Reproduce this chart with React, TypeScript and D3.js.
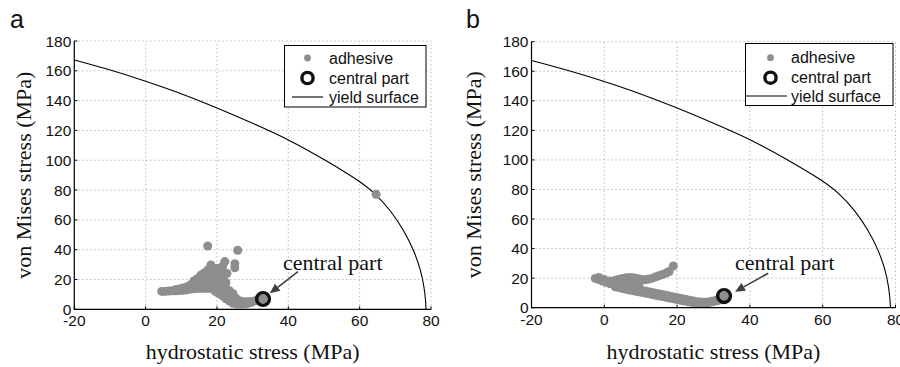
import React from "react";
import * as d3 from "d3";

// ---------- data ----------
const xTicks = [-20, 0, 20, 40, 60, 80];
const yTicks = [0, 20, 40, 60, 80, 100, 120, 140, 160, 180];

// yield surface (hydrostatic, von Mises)
const yieldX = [-20, -10.6, 0, 8, 20, 30, 40, 50, 60, 64.6, 68.8, 72.5, 75.3, 77.2, 78.1, 78.5, 78.6];
const yieldY = [167.3, 161.1, 153.2, 146.5, 135.3, 124.8, 114.1, 100.7, 86.1, 77.2, 66, 52.6, 39.1, 25.7, 14.5, 6, 0];

// adhesive points, panel a
const adhesiveA: [number, number][] = [
  [4.5, 12], [5.5, 12], [6.5, 12.2], [7.5, 12.4], [8.5, 12.4], [8.5, 13.2], [9.5, 12.6], [9.5, 13.6],
  [10.5, 12.8], [10.5, 14.3], [11.5, 13], [11.5, 15],
  [12.5, 13.5], [12.5, 16.3], [13.5, 13.8], [13.5, 16.5], [13.5, 19],
  [14.5, 14], [14.5, 17], [14.5, 20.5],
  [15.5, 14], [15.5, 17.5], [15.5, 21], [15.5, 23],
  [16.5, 14], [16.5, 17.5], [16.5, 21], [16.5, 24.5],
  [17.5, 14], [17.5, 17.5], [17.5, 21], [17.5, 24.5], [17.5, 26.5],
  [18.5, 14], [18.5, 17.5], [18.5, 21], [18.5, 24.5], [18.3, 28], [18.3, 29.8],
  [19.5, 12], [19.5, 15.5], [19.5, 19], [19.5, 22.5], [19.5, 26],
  [20.5, 10.5], [20.5, 14], [20.5, 17.5], [20.5, 21], [20.5, 25], [20.2, 27.5],
  [21.5, 9], [21.5, 12.5], [21.5, 16], [21.5, 20], [21.6, 26], [21.6, 29],
  [22.5, 7], [22.5, 10.5], [22.5, 14], [22.5, 18], [22.8, 24],
  [23.5, 5.5], [23.5, 9], [23.5, 12.5],
  [24.5, 4], [24.5, 7.5], [24.5, 10.5],
  [25.5, 3.5], [25.5, 7], [26.5, 3.5], [26.5, 5.5], [27.5, 3.6], [27.5, 5],
  [28.5, 3.8], [28.5, 5], [29.5, 4.5], [29.5, 5.2], [30.5, 5.5], [31.5, 6.3], [32.5, 7], [32.9, 6.9],
  [17.4, 42.5], [25.8, 39.6], [22.2, 32], [25, 30.6], [25, 27.8],
  [64.6, 77.2],
];

// adhesive points, panel b
const adhesiveB: [number, number][] = [
  [-2.5, 19.8], [-1.5, 19], [-0.5, 18], [0.5, 17.2], [1.5, 16.4], [2.5, 15.8], [3.5, 15.2], [4.5, 14.6],
  [5.5, 14.1], [6.5, 13.6], [7.5, 13.1], [8.5, 12.6], [9.5, 12.1], [10.5, 11.6], [11.5, 11.1], [12.5, 10.6],
  [13.5, 10.1], [14.5, 9.6], [15.5, 9.1], [16.5, 8.6], [17.5, 8.1], [18.5, 7.6], [19.5, 7.1], [20.5, 6.6],
  [21.5, 6.1], [22.5, 5.6], [23.5, 5.1], [24.5, 4.6], [25.5, 4.1], [26.5, 3.8], [27.5, 3.7], [28.5, 3.9],
  [29.5, 4.3], [30.5, 4.9], [31.5, 5.6], [32.5, 6.5], [33, 7.9],
  [3, 14.2], [4, 13.6], [5, 13], [6, 12.5], [7, 12], [8, 11.5], [9, 11], [10, 10.5], [11, 10], [12, 9.5],
  [13, 9], [14, 8.5], [15, 8], [16, 7.5], [17, 7], [18, 6.5], [19, 6], [20, 5.5], [21, 5], [22, 4.5],
  [23, 4], [24, 3.6], [25, 3.3], [26, 3.1], [27, 3], [28, 3.2], [29, 3.6], [30, 4.1], [31, 4.7], [32, 5.4],
  [-1.5, 20.5], [0, 19], [1.5, 18], [3, 18.5], [4, 19.2], [5, 19.8], [6, 20.2], [7, 20.4], [8, 20.3],
  [9, 19.8], [10, 19.2], [11, 18.9], [12, 19.2], [13, 19.8], [14, 20.7], [15, 21.6], [16, 22.5],
  [17, 23.5], [17.8, 24.5],
  [4, 17], [6, 17], [8, 16.5], [9.5, 16],
  [18.96, 28.2],
];

const centralA: [number, number] = [32.9, 6.9];
const centralB: [number, number] = [32.9, 7.9];

const legendLabels = ["adhesive", "central part", "yield surface"];
const annotationText = "central part";
const xLabel = "hydrostatic stress (MPa)";
const yLabel = "von Mises stress (MPa)";

// ---------- styles ----------
const SANS = "'Liberation Sans', Arial, Helvetica, sans-serif";
const SERIF = "'Liberation Serif', 'Times New Roman', Times, serif";
const GRAY = "#8e8e8e";
const ARROW = "#3f3f3f";

type PanelCfg = {
  letter: string;
  x0: number; x1: number; y0: number; y1: number;
  letterX: number; letterY: number;
  yLabelX: number;
  legend: { x: number; y: number; w: number; h: number; symX: number; lineX0: number; lineX1: number; textX: number; rows: number[] };
  adhesive: [number, number][];
  central: [number, number];
  textAt: [number, number];
  arrowFrom: [number, number];
  arrowTo: [number, number];
};

const panels: PanelCfg[] = [
  {
    letter: "a", x0: 74.3, x1: 431, y0: 309.3, y1: 41,
    letterX: 10, letterY: 28, yLabelX: 31,
    legend: { x: 284.5, y: 45.5, w: 141.5, h: 61.5, symX: 307.5, lineX0: 292, lineX1: 323, textX: 329, rows: [58, 78, 97] },
    adhesive: adhesiveA, central: centralA,
    textAt: [38.5, 26.4], arrowFrom: [42.7, 25.2], arrowTo: [34.8, 10.7],
  },
  {
    letter: "b", x0: 531.5, x1: 895.5, y0: 307.7, y1: 41.7,
    letterX: 466, letterY: 28, yLabelX: 481,
    legend: { x: 745.5, y: 43.5, w: 147.5, h: 62, symX: 770.5, lineX0: 746, lineX1: 787, textX: 791, rows: [57.7, 77.7, 96] },
    adhesive: adhesiveB, central: centralB,
    textAt: [35.9, 25.5], arrowFrom: [45.05, 23.3], arrowTo: [35.9, 10.8],
  },
];

function Panel({ p }: { p: PanelCfg }) {
  const x = d3.scaleLinear().domain([-20, 80]).range([p.x0, p.x1]);
  const y = d3.scaleLinear().domain([0, 180]).range([p.y0, p.y1]);
  const line = d3
    .line<number>()
    .x((_, i) => x(yieldX[i]))
    .y((_, i) => y(yieldY[i]))
    .curve(d3.curveBasis);
  const yieldPath = line(yieldX) || "";

  // arrow
  const [fx, fy] = [x(p.arrowFrom[0]), y(p.arrowFrom[1])];
  const [tx, ty] = [x(p.arrowTo[0]), y(p.arrowTo[1])];
  const dx = tx - fx, dy = ty - fy;
  const len = Math.hypot(dx, dy);
  const ux = dx / len, uy = dy / len;
  const headL = 10, headW = 4.5;
  const bx = tx - ux * headL, by = ty - uy * headL;
  const head = `M${tx},${ty} L${bx - uy * headW},${by + ux * headW} L${bx + uy * headW},${by - ux * headW} Z`;

  const L = p.legend;
  const midX = (p.x0 + p.x1) / 2;
  const midY = (p.y0 + p.y1) / 2;

  return (
    <g>
      {/* grid */}
      {xTicks.map((t) => (
        <line key={"gx" + t} x1={x(t)} x2={x(t)} y1={p.y0} y2={p.y1} stroke="#9a9a9a" strokeWidth={1} strokeDasharray="1,3" />
      ))}
      {yTicks.map((t) => (
        <line key={"gy" + t} x1={p.x0} x2={p.x1} y1={y(t)} y2={y(t)} stroke="#9a9a9a" strokeWidth={1} strokeDasharray="1,3" />
      ))}
      {/* yield surface */}
      <path d={yieldPath} fill="none" stroke="#000" strokeWidth={1.1} />
      {/* adhesive */}
      {p.adhesive.map((d, i) => (
        <circle key={"a" + i} cx={x(d[0])} cy={y(d[1])} r={4.5} fill={GRAY} />
      ))}
      {/* central part */}
      <circle cx={x(p.central[0])} cy={y(p.central[1])} r={6.4} fill="none" stroke="#111" strokeWidth={3.4} />
      {/* axes */}
      <line x1={p.x0} x2={p.x0} y1={p.y0 + 0.5} y2={p.y1} stroke="#000" strokeWidth={1.2} />
      <line x1={p.x0} x2={p.x1} y1={p.y0} y2={p.y0} stroke="#000" strokeWidth={1.2} />
      {xTicks.map((t) => (
        <line key={"tx" + t} x1={x(t)} x2={x(t)} y1={p.y0} y2={p.y0 - 3} stroke="#000" strokeWidth={1} />
      ))}
      {yTicks.map((t) => (
        <line key={"ty" + t} x1={p.x0} x2={p.x0 + 3} y1={y(t)} y2={y(t)} stroke="#000" strokeWidth={1} />
      ))}
      {xTicks.map((t) => (
        <text key={"lx" + t} x={x(t)} y={p.y0 + 17} textAnchor="middle" fontFamily={SANS} fontSize={15.5} fill="#111">
          {t}
        </text>
      ))}
      {yTicks.map((t) => (
        <text key={"ly" + t} x={p.x0 - 3} y={y(t) + 5.5} textAnchor="end" fontFamily={SANS} fontSize={15.5} fill="#111">
          {t}
        </text>
      ))}
      {/* axis labels */}
      <text x={midX} y={359} textAnchor="middle" fontFamily={SERIF} fontSize={22} fill="#111">
        {xLabel}
      </text>
      <text
        transform={`translate(${p.yLabelX},${midY}) rotate(-90)`}
        textAnchor="middle"
        fontFamily={SERIF}
        fontSize={22}
        fill="#111"
      >
        {yLabel}
      </text>
      {/* panel letter */}
      <text x={p.letterX} y={p.letterY} fontFamily={SANS} fontSize={25} fill="#111">
        {p.letter}
      </text>
      {/* annotation */}
      <line x1={fx} y1={fy} x2={bx} y2={by} stroke={ARROW} strokeWidth={1.6} />
      <path d={head} fill={ARROW} />
      <text x={x(p.textAt[0])} y={y(p.textAt[1])} fontFamily={SERIF} fontSize={22} fill="#111">
        {annotationText}
      </text>
      {/* legend */}
      <rect x={L.x} y={L.y} width={L.w} height={L.h} fill="#fff" stroke="#000" strokeWidth={1} />
      <circle cx={L.symX} cy={L.rows[0]} r={3.4} fill={GRAY} />
      <circle cx={L.symX} cy={L.rows[1]} r={5.6} fill="none" stroke="#111" strokeWidth={3.4} />
      <line x1={L.lineX0} x2={L.lineX1} y1={L.rows[2]} y2={L.rows[2]} stroke="#000" strokeWidth={1.1} />
      {legendLabels.map((s, i) => (
        <text key={s} x={L.textX} y={L.rows[i] + 5.5} fontFamily={SANS} fontSize={16} fill="#111">
          {s}
        </text>
      ))}
    </g>
  );
}

export default function App() {
  return (
    <svg width={900} height={367} style={{ position: "absolute", left: 0, top: 0, background: "#fff" }}>
      <rect x={0} y={0} width={900} height={367} fill="#fff" />
      {panels.map((p) => (
        <Panel key={p.letter} p={p} />
      ))}
    </svg>
  );
}
